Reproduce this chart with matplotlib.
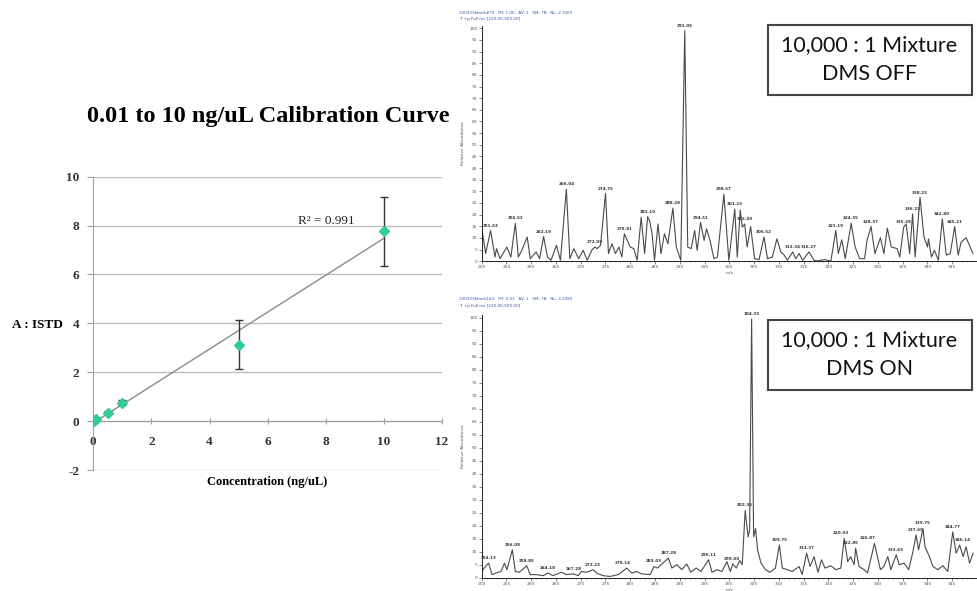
import numpy as np
import matplotlib
matplotlib.use("Agg")
from matplotlib import pyplot as plt
from matplotlib.patches import Rectangle

plt.rcParams["axes.unicode_minus"] = False

# calibration curve data
conc = [0.01, 0.05, 0.1, 0.5, 1, 5, 10]
ratio = [0.0, 0.03, 0.07, 0.35, 0.75, 3.13, 7.76]
ratio_err = [0.02, 0.02, 0.03, 0.05, 0.1, 1.0, 1.42]

# spectrum 1 (DMS OFF) profile, m/z and relative abundance
off_mz = [250.1, 250.8, 251.8, 252.7, 253.0, 253.7, 255.1, 255.9, 256.8, 257.4,
          258.1, 259.2, 259.8, 261.0, 261.7, 262.5, 263.3, 264.0, 265.1, 265.9,
          267.1, 267.8, 268.6, 269.6, 270.5, 271.3, 272.3, 272.9, 273.3, 274.0,
          275.0, 275.6, 276.3, 277.0, 277.7, 278.3, 278.8, 279.4, 280.0, 280.7,
          281.4, 282.2, 282.9, 283.5, 283.9, 284.4, 284.9, 285.6, 286.2, 286.9,
          287.6, 288.6, 289.3, 290.2, 291.0, 291.6, 292.3, 293.0, 293.5, 294.2,
          294.9, 295.4, 296.1, 296.9, 297.6, 298.9, 299.9, 301.1, 301.6, 302.2,
          302.6, 303.1, 303.6, 304.3, 305.1, 306.0, 307.0, 307.7, 308.7, 309.6,
          310.4, 311.1, 311.7, 312.8, 313.4, 314.1, 314.8, 316.1, 317.1, 317.8,
          319.2, 320.5, 321.5, 322.0, 322.7, 323.4, 324.6, 325.4, 326.3, 327.3,
          327.8, 328.6, 329.4, 330.5, 331.2, 331.9, 332.7, 333.9, 334.4, 335.2,
          335.7, 336.4, 337.0, 337.5, 338.5, 339.3, 340.0, 340.2, 340.8, 341.4,
          342.2, 343.0, 343.8, 344.6, 345.5, 346.2, 346.8, 347.8, 349.2]
off_int = [13.2, 3.3, 13.2, 1.8, 5.4, 1.1, 6.1, 1.8, 16.3, 1.8,
           4.7, 10.4, 1.1, 4.0, 1.1, 10.6, 1.8, 0.4, 6.8, 0.4,
           30.9, 1.1, 5.4, 1.1, 4.7, 0.4, 5.0, 6.1, 5.4, 6.8,
           29.1, 3.3, 7.5, 3.3, 6.1, 1.8, 11.8, 8.9, 6.1, 5.4,
           0.4, 18.9, 3.3, 19.1, 17.4, 11.8, 0.4, 16.0, 3.3, 11.8,
           7.5, 22.8, 6.1, 0.4, 99.0, 6.1, 5.4, 13.2, 4.7, 16.7,
           8.9, 13.9, 8.9, 1.1, 1.8, 28.8, 0.4, 22.4, 1.8, 22.0,
           14.6, 16.0, 6.1, 14.9, 1.1, 0.7, 10.4, 1.1, 1.8, 9.6,
           4.0, 2.6, 0.4, 4.0, 1.1, 3.3, 0.4, 4.0, 0.4, 0.1,
           0.7, 0.1, 13.2, 3.3, 9.2, 1.1, 16.3, 6.1, 1.1, 1.1,
           8.9, 14.9, 3.3, 10.1, 3.3, 14.2, 6.1, 5.4, 1.8, 14.6,
           16.0, 3.3, 20.3, 1.8, 27.4, 10.4, 6.1, 9.6, 1.8, 4.7,
           0.4, 18.2, 2.6, 3.3, 14.9, 2.6, 8.2, 10.1, 3.3]
off_lbl_mz = [251.8, 256.8, 262.5, 267.1, 272.9, 275.0, 278.8, 283.5, 288.6,
              291.0, 294.2, 298.9, 301.1, 303.1, 307.0, 312.8, 316.1, 321.5,
              324.6, 328.6, 335.2, 337.0, 338.5, 343.0, 345.5]
off_lbl_int = [13.2, 16.3, 10.6, 30.9, 6.1, 29.1, 11.8, 19.1, 22.8,
               99.0, 16.7, 28.8, 22.4, 16.0, 10.4, 4.0, 4.0, 13.2,
               16.3, 14.9, 14.6, 20.3, 27.4, 18.2, 14.9]
off_lbl_txt = ["251.63", "256.52", "262.19", "266.04", "272.09", "274.75", "278.81",
               "283.10", "288.28", "291.05", "294.51", "298.57", "301.23", "302.49",
               "306.52", "312.34", "316.27", "321.19", "324.35", "328.37", "335.28",
               "336.23", "338.23", "342.80", "345.21"]

# spectrum 2 (DMS ON)
on_mz = [250.0, 250.5, 251.4, 252.1, 252.9, 253.9, 254.6, 255.1, 256.2, 256.8,
         257.6, 259.1, 259.8, 261.0, 262.4, 263.4, 264.4, 266.1, 267.1, 268.5,
         269.5, 270.1, 271.2, 272.5, 273.2, 274.5, 275.9, 277.6, 279.3, 280.3,
         281.3, 282.3, 284.0, 284.8, 285.5, 286.4, 287.7, 288.4, 289.4, 290.4,
         291.4, 292.2, 293.3, 294.3, 295.8, 296.5, 297.5, 298.5, 299.5, 300.2,
         300.7, 301.4, 302.1, 302.6, 303.2, 303.8, 304.1, 304.5, 304.9, 305.3,
         305.7, 306.4, 307.3, 308.2, 309.3, 310.1, 310.7, 311.7, 312.7, 314.1,
         314.7, 315.6, 316.3, 317.1, 317.9, 318.6, 319.3, 320.5, 321.5, 322.5,
         323.2, 323.9, 324.5, 325.2, 325.5, 326.2, 327.2, 327.9, 329.3, 329.9,
         330.5, 331.2, 332.0, 332.6, 333.7, 334.3, 335.3, 336.2, 337.0, 337.7,
         338.2, 339.1, 339.5, 340.4, 341.1, 342.1, 343.1, 344.1, 345.1, 345.8,
         346.5, 347.2, 347.8, 348.5, 349.2]
on_int = [2.5, 3.8, 5.7, 1.3, 1.9, 2.5, 5.7, 3.2, 10.8, 2.5,
          2.2, 4.7, 1.3, 1.3, 0.9, 1.9, 0.9, 2.2, 1.3, 1.6,
          0.9, 2.5, 2.2, 3.2, 1.9, 0.9, 0.6, 1.3, 3.8, 1.9,
          2.5, 1.6, 1.3, 4.4, 3.8, 5.4, 7.6, 3.8, 5.1, 3.2,
          5.4, 2.2, 3.8, 2.5, 7.0, 2.2, 3.2, 2.5, 6.3, 2.5,
          5.4, 3.8, 6.7, 5.1, 25.9, 15.8, 18.4, 99.4, 15.8, 19.0,
          10.8, 5.7, 3.2, 2.2, 3.8, 12.7, 3.8, 3.2, 2.5, 4.4,
          1.3, 9.5, 4.4, 8.2, 2.2, 7.0, 3.8, 4.7, 3.2, 3.8,
          15.2, 6.3, 8.2, 5.1, 11.4, 4.4, 3.2, 1.9, 13.3, 8.2,
          3.2, 4.4, 8.2, 3.2, 8.9, 5.1, 5.7, 3.2, 9.5, 16.5,
          10.8, 19.0, 12.0, 8.2, 4.4, 3.2, 4.7, 2.5, 17.7, 9.5,
          12.7, 8.2, 12.0, 5.7, 9.5]
on_lbl_mz = [251.4, 256.2, 259.1, 263.4, 268.5, 272.5, 278.5, 284.8, 287.7,
             295.8, 300.4, 303.2, 304.5, 310.1, 315.6, 322.5, 324.5, 327.9,
             333.7, 337.7, 339.1, 345.1, 347.2]
on_lbl_int = [5.7, 10.8, 4.7, 1.9, 1.6, 3.2, 3.8, 4.4, 7.6,
              7.0, 5.4, 25.9, 99.4, 12.7, 9.5, 15.2, 11.4, 13.3,
              8.9, 16.5, 19.0, 17.7, 12.7]
on_lbl_txt = ["254.13", "256.08", "258.85", "264.18", "267.28", "272.23", "278.14",
              "283.03", "287.28", "296.11", "299.00", "302.36", "304.33", "309.75",
              "313.37", "320.03", "322.85", "326.87", "333.63", "337.65", "339.75",
              "344.77", "346.14"]

fig = plt.figure(figsize=(9.77, 5.91), dpi=100)
serif = "Liberation Serif"

# ---- calibration curve ----
ax = fig.add_axes([0.0955, 0.2047, 0.357, 0.4963])
ax.set_xlim(0, 12)
ax.set_ylim(-2, 10)
for g in range(-2, 11, 2):
    ax.axhline(g, color="#bdbdbd", lw=1, zorder=0)
k, b = np.polyfit(conc, ratio, 1)
xx = np.array([conc[0], conc[-1]])
ax.plot(xx, k * xx + b, color="#8a8a8a", lw=1, zorder=2)
ax.errorbar(conc, ratio, yerr=ratio_err, fmt="none", ecolor="#333333",
            elinewidth=1, capsize=3, zorder=3)
ax.plot(conc, ratio, "D", color="#33cc99", markersize=5.5, zorder=4)
for s in ["top", "right"]:
    ax.spines[s].set_visible(False)
ax.spines["bottom"].set_position(("data", 0))
ax.spines["bottom"].set_color("#a0a0a0")
ax.spines["left"].set_color("#a0a0a0")
ax.set_xticks(range(0, 13, 2))
ax.set_yticks(range(-2, 11, 2))
ax.tick_params(axis="x", direction="inout", length=5, color="#a0a0a0", pad=8)
ax.tick_params(axis="y", direction="out", length=4, color="#a0a0a0", pad=6)
for t in ax.get_xticklabels() + ax.get_yticklabels():
    t.set_fontfamily(serif)
    t.set_fontweight("bold")
    t.set_fontsize(9.5)
    t.set_color("#333333")
ax.text(7.05, 8.2, "R² = 0.991", family=serif, fontsize=9.5, va="center", color="#222222")

fig.text(0.275, 0.803, "0.01 to 10 ng/uL Calibration Curve", family=serif,
         fontweight="bold", fontsize=17.5, ha="center", va="center")
fig.text(0.012, 0.45, "A : ISTD", family=serif, fontweight="bold", fontsize=9.5,
         ha="left", va="center")
fig.text(0.273, 0.184, "Concentration (ng/uL)", family=serif, fontweight="bold",
         fontsize=9, ha="center", va="center")


# ---- spectra ----
def spectrum(rect, mz, inten, lmz, lint, ltxt, head1, head2, head_y):
    sx = fig.add_axes(rect)
    sx.plot(mz, inten, color="#4a4a4a", lw=0.8)
    sx.set_xlim(250, 350)
    sx.set_ylim(0, 101)
    for s in ["top", "right"]:
        sx.spines[s].set_visible(False)
    sx.spines["left"].set_linewidth(0.6)
    sx.spines["bottom"].set_linewidth(0.6)
    sx.set_xticks(range(250, 350, 5))
    sx.set_xticks(range(250, 350, 1), minor=True)
    sx.set_yticks(range(0, 101, 5))
    sx.tick_params(labelsize=3.2, length=2, width=0.5, pad=1, colors="#555555")
    sx.tick_params(which="minor", length=1, width=0.4, color="#777777")
    sx.set_ylabel("Relative Abundance", fontsize=3.2, color="#555555", labelpad=3)
    sx.set_xlabel("m/z", fontsize=3.2, color="#555555", labelpad=1)
    for x, y, s in zip(lmz, lint, ltxt):
        sx.text(x, y + 1.2, s, fontsize=3, ha="center", va="bottom",
                color="#333333", fontweight="bold")
    fig.text(0.47, head_y, head1, fontsize=3, color="#3355aa")
    fig.text(0.47, head_y - 0.011, head2, fontsize=3, color="#3355aa")
    return sx


spectrum([0.493, 0.558, 0.507, 0.398], off_mz, off_int, off_lbl_mz, off_lbl_int,
         off_lbl_txt, "100323blank#75   RT: 1.00   AV: 1   SM: 7B   NL: 2.31E5",
         "T: +p Full ms [220.00-500.00]", 0.977)
spectrum([0.493, 0.022, 0.507, 0.445], on_mz, on_int, on_lbl_mz, on_lbl_int,
         on_lbl_txt, "100323blank2#2   RT: 0.01   AV: 1   SM: 7B   NL: 3.23E5",
         "T: +p Full ms [220.00-500.00]", 0.492)

# labelled boxes
for y0, line2 in [(0.839, "DMS OFF"), (0.340, "DMS ON")]:
    fig.patches.append(Rectangle((0.786, y0), 0.209, 0.118, transform=fig.transFigure,
                                 facecolor="white", edgecolor="#444444", lw=1.5))
    fig.text(0.890, y0 + 0.085, "10,000 : 1 Mixture", family="Lato", fontsize=15.5,
             ha="center", va="center", color="#111111")
    fig.text(0.890, y0 + 0.035, line2, family="Lato", fontsize=15.5,
             ha="center", va="center", color="#111111")

fig.savefig("out.png", dpi=100)
